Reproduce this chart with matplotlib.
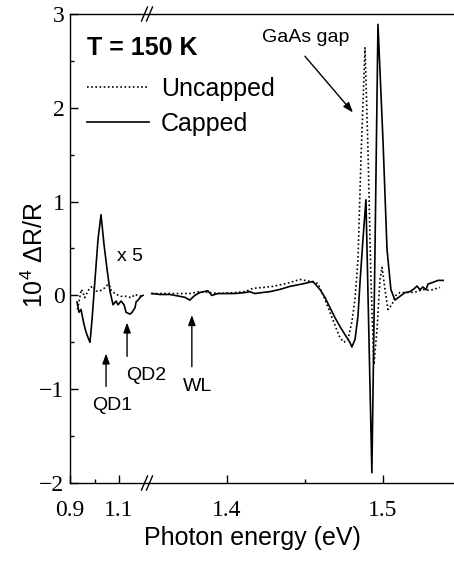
import numpy as np
import matplotlib
matplotlib.use('Agg')
import matplotlib.pyplot as plt

# ── Style ───────────────────────────────────────────────────────────────────────
plt.rcParams.update({
    'font.family':       'Liberation Sans',
    'mathtext.fontset':  'custom',
    'mathtext.rm':       'Liberation Sans',
    'mathtext.it':       'Liberation Sans:italic',
    'axes.linewidth':    1.0,
})

SANS_SIZE  = 18
NOTE_SIZE  = 14
TICK_SIZE  = 17

# ── Data ────────────────────────────────────────────────────────────────────────
# low-energy part (QD region, shown x 5)
cap_low_x = [0.9286, 0.9367, 0.9449, 0.9571, 0.9653, 0.9735, 0.9816, 0.9898,
             1.0020, 1.0143, 1.0265, 1.0388, 1.0510, 1.0633, 1.0755, 1.0878,
             1.0959, 1.1082, 1.1204, 1.1286, 1.1449, 1.1531, 1.1653, 1.1694,
             1.1776, 1.1898, 1.1980]
cap_low_y = [-0.07, -0.18, -0.15, -0.31, -0.39, -0.45, -0.50, -0.26,
             0.17, 0.60, 0.86, 0.54, 0.28, 0.04, -0.10, -0.06,
             -0.10, -0.06, -0.10, -0.18, -0.20, -0.18, -0.13, -0.07,
             -0.05, -0.01, 0.00]

unc_low_x = [0.9306, 0.9461, 0.9531, 0.9600, 0.9665, 0.9735, 0.9804, 0.9939,
             1.0008, 1.0073, 1.0212, 1.0416, 1.0551, 1.0620, 1.0686, 1.0890,
             1.1094, 1.1298, 1.1502, 1.1641, 1.1845, 1.1980]
unc_low_y = [-0.15, 0.064, 0.03, -0.025, 0.01, 0.046, 0.08, 0.10,
             0.064, 0.046, 0.046, 0.08, 0.12, 0.10, 0.046, 0.01,
             -0.01, -0.01, -0.025, 0.01, -0.01, 0.01]

# high-energy part (WL and GaAs gap)
cap_high_x = [1.3519, 1.3571, 1.3635, 1.3699, 1.3731, 1.3763, 1.3795, 1.3827,
              1.3878, 1.3904, 1.3942, 1.3987, 1.4051, 1.4115, 1.4147, 1.4179,
              1.4224, 1.4276, 1.4340, 1.4404, 1.4468, 1.4500, 1.4551, 1.4596,
              1.4628, 1.4660, 1.4692, 1.4724, 1.4756, 1.4788, 1.4801, 1.4821,
              1.4840, 1.4853, 1.4872, 1.4891, 1.4929, 1.4949, 1.4968, 1.5000,
              1.5026, 1.5051, 1.5077, 1.5109, 1.5141, 1.5173, 1.5199, 1.5218,
              1.5237, 1.5256, 1.5276, 1.5288, 1.5321, 1.5353, 1.5385]
cap_high_y = [0.02, 0.01, 0.01, -0.01, -0.02, -0.05, 0.00, 0.03,
              0.05, 0.00, 0.02, 0.02, 0.02, 0.03, 0.04, 0.02,
              0.03, 0.04, 0.064, 0.096, 0.117, 0.128, 0.149, 0.064,
              -0.02, -0.128, -0.235, -0.33, -0.416, -0.50, -0.55, -0.47,
              -0.22, 0.14, 0.60, 1.02, -1.89, 0.49, 2.89, 1.66,
              0.49, 0.06, -0.05, -0.01, 0.03, 0.04, 0.07, 0.10,
              0.06, 0.09, 0.06, 0.12, 0.14, 0.16, 0.16]

unc_high_x = [1.3519, 1.3603, 1.3699, 1.3763, 1.3827, 1.3891, 1.3955, 1.4051,
              1.4115, 1.4167, 1.4231, 1.4295, 1.4385, 1.4468, 1.4532, 1.4583,
              1.4628, 1.4679, 1.4724, 1.4750, 1.4776, 1.4801, 1.4821, 1.4840,
              1.4859, 1.4885, 1.4904, 1.4923, 1.4942, 1.4962, 1.4981, 1.4994,
              1.5013, 1.5032, 1.5058, 1.5083, 1.5109, 1.5173, 1.5218, 1.5256,
              1.5301, 1.5365]
unc_high_y = [0.02, 0.02, 0.02, 0.02, 0.04, 0.03, 0.02, 0.03,
              0.04, 0.075, 0.085, 0.096, 0.128, 0.17, 0.15, 0.128,
              -0.04, -0.26, -0.45, -0.50, -0.47, -0.28, -0.04, 0.38,
              1.45, 2.64, 1.56, 0.17, -0.74, -0.36, 0.17, 0.30,
              0.064, -0.15, -0.096, 0.00, 0.03, 0.03, 0.04, 0.064,
              0.053, 0.085]

Y_TICKS       = [-2, -1, 0, 1, 2, 3]
Y_MINOR       = [-1.5, -0.5, 0.5, 1.5, 2.5]
X_TICKS       = [0.9, 1.1, 1.4, 1.5]
X_MINOR       = [1.0, 1.45]

# ── Broken energy axis: two linear pieces joined at the break ───────────────────
BREAK_LO, BREAK_HI = 1.214, 1.349
XB = [0.0, BREAK_LO, BREAK_HI, 3.0]
UB = [-150.5, 147.0, 147.2, 2723.0]


def fwd(x):
    return np.interp(x, XB, UB)


def inv(u):
    return np.interp(u, UB, XB)


# ── Figure ──────────────────────────────────────────────────────────────────────
fig = plt.figure(figsize=(4.54, 5.63), dpi=100)
ax = fig.add_axes([70 / 454, 1 - 483 / 563, 384 / 454, 469 / 563])
ax.set_xscale('function', functions=(fwd, inv))

dot_kw = dict(color='black', lw=1.2, linestyle=(0, (1, 1.5)))
sol_kw = dict(color='black', lw=1.2)

ax.plot(unc_low_x, unc_low_y, **dot_kw, label='Uncapped')
ax.plot(unc_high_x, unc_high_y, **dot_kw)
ax.plot(cap_low_x, cap_low_y, **sol_kw, label='Capped')
ax.plot(cap_high_x, cap_high_y, **sol_kw)

ax.set_xlim(0.9, 1.5455)
ax.set_ylim(-2, 3)

ax.set_xticks(X_TICKS)
ax.set_xticks(X_MINOR, minor=True)
ax.set_yticks(Y_TICKS)
ax.set_yticks(Y_MINOR, minor=True)
ax.tick_params(which='both', direction='in', top=False, right=False,
               labelsize=TICK_SIZE, labelfontfamily='Liberation Serif', width=1.0)
ax.tick_params(which='major', length=5.8)
ax.tick_params(which='minor', length=2.9)
ax.tick_params(axis='x', pad=12)
ax.tick_params(axis='y', pad=4)
ax.spines['right'].set_visible(False)

ax.set_xlabel('Photon energy (eV)', fontsize=SANS_SIZE)
ax.xaxis.set_label_coords(0.474, -0.117)
ax.xaxis.label.set_va('center')
ax.set_ylabel('10$^{4}$ ΔR/R', fontsize=SANS_SIZE)
ax.yaxis.set_label_coords(-0.091, 0.486)
ax.yaxis.label.set_va('center')

# axis break marks (//) on bottom and top spines
bx = (147 - 70) / 384
for yb in (0.0, 1.0):
    for off in (-2.5, 2.5):
        x0 = bx + (off - 3) / 384
        x1 = bx + (off + 3) / 384
        ax.plot([x0, x1], [yb - 7 / 469, yb + 7 / 469], transform=ax.transAxes,
                color='black', lw=1.0, clip_on=False)

# ── Legend and labels ───────────────────────────────────────────────────────────
ax.legend(loc='upper left', bbox_to_anchor=(0.044, 0.866), frameon=False,
          fontsize=SANS_SIZE, handlelength=2.5, handletextpad=0.45,
          labelspacing=0.45, borderpad=0, borderaxespad=0)

ax.text(0.0443, 0.9126, 'T = 150 K', transform=ax.transAxes, fontsize=SANS_SIZE,
        fontweight='bold', va='baseline', ha='left')
ax.text(1.1449, 0.42, 'x 5', fontsize=NOTE_SIZE, ha='center', va='center')

arrow_kw = dict(arrowstyle='-|>,head_length=0.6,head_width=0.22', color='black',
                lw=1.0, shrinkA=0, shrinkB=0, mutation_scale=10)
ax.annotate('', xy=(1.047, -0.62), xytext=(1.047, -0.97), arrowprops=arrow_kw)
ax.text(1.0714, -1.17, 'QD1', fontsize=NOTE_SIZE, ha='center', va='center')
ax.annotate('', xy=(1.1327, -0.29), xytext=(1.1327, -0.65), arrowprops=arrow_kw)
ax.text(1.2102, -0.85, 'QD2', fontsize=NOTE_SIZE, ha='center', va='center')
ax.annotate('', xy=(1.3776, -0.21), xytext=(1.3776, -0.76), arrowprops=arrow_kw)
ax.text(1.3814, -0.97, 'WL', fontsize=NOTE_SIZE, ha='center', va='center')
ax.annotate('', xy=(1.4808, 1.95), xytext=(1.45, 2.55), arrowprops=arrow_kw)
ax.text(1.4506, 2.75, 'GaAs gap', fontsize=NOTE_SIZE, ha='center', va='center')

fig.savefig('out.png', dpi=100)
